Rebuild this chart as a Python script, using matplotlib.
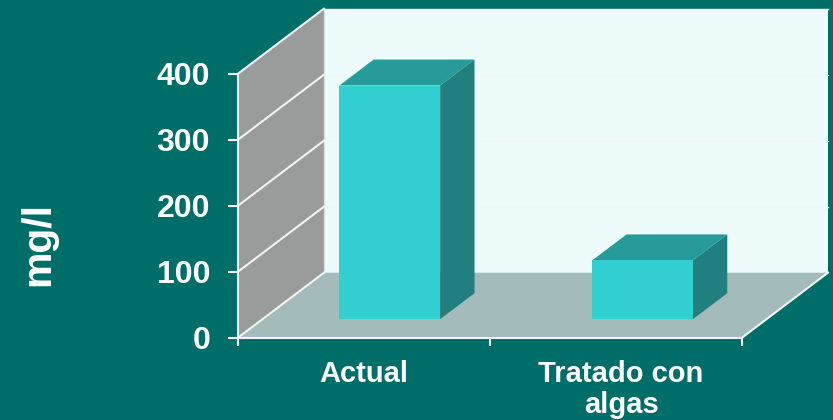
import matplotlib
matplotlib.use('Agg')
import matplotlib.pyplot as plt
from matplotlib.patches import Polygon

plt.rcParams['font.family'] = ['Liberation Sans', 'DejaVu Sans']

categories = ['Actual', 'Tratado con\nalgas']
values = [354, 89]
y_ticks = [0, 100, 200, 300, 400]
y_label = 'mg/l'

BG = '#006E68'
SIDE_WALL = '#999C9B'
BACK_WALL = '#EEFBFB'
FLOOR = '#A3BBBB'
BAR_FRONT = '#31CFCF'
BAR_TOP = '#279A9A'
BAR_SIDE = '#217F7F'

XMAX = len(categories)
YMAX = y_ticks[-1]
# oblique depth of the box, in data units
DEPTH_X = 0.341
DEPTH_Y = 98.5


def proj(x, y, d):
    return (x + d * DEPTH_X, y + d * DEPTH_Y)


def face(ax, pts, color, zorder, edge='none', lw=0):
    ax.add_patch(Polygon([proj(*p) for p in pts], closed=True, facecolor=color,
                         edgecolor=edge, linewidth=lw, clip_on=False, zorder=zorder))


def depth_line(ax, x, y, color='#F2F4F4', lw=1.5, zorder=3):
    p0 = proj(x, y, 0)
    p1 = proj(x, y, 1)
    ax.plot([p0[0], p1[0]], [p0[1], p1[1]], color=color, lw=lw, clip_on=False, zorder=zorder)


fig = plt.figure(figsize=(8.33, 4.2), dpi=100, facecolor=BG)
ax = fig.add_axes([238 / 833, 1 - 337.7 / 420, 504 / 833, 264 / 420])
ax.set_facecolor('none')
ax.set_xlim(0, XMAX)
ax.set_ylim(0, YMAX)

# back wall, side wall, floor
face(ax, [(0, 0, 1), (XMAX, 0, 1), (XMAX, YMAX, 1), (0, YMAX, 1)], BACK_WALL, 1)
face(ax, [(0, 0, 0), (0, 0, 1), (0, YMAX, 1), (0, YMAX, 0)], SIDE_WALL, 1)
face(ax, [(0, 0, 0), (XMAX, 0, 0), (XMAX, 0, 1), (0, 0, 1)], FLOOR, 1)

# grid lines
for t in y_ticks:
    depth_line(ax, 0, t)
    if t > 0:
        p = proj(0, t, 1)
        ax.plot([p[0], p[0] + XMAX], [p[1], p[1]], color='#F4F6F6', lw=1, clip_on=False, zorder=2)
depth_line(ax, XMAX, 0)
p = proj(0, 0, 1)
ax.plot([p[0], p[0]], [p[1], p[1] + YMAX], color='#D5E2E2', lw=1, clip_on=False, zorder=2)

# bars
bar_w = 0.4
d0, d1 = 0.285, 0.685
for i, v in enumerate(values):
    x0 = i + 0.505 - bar_w / 2 + 0.003 * i
    x1 = x0 + bar_w
    face(ax, [(x0, v, d0), (x1, v, d0), (x1, v, d1), (x0, v, d1)], BAR_TOP, 4)
    face(ax, [(x1, 0, d0), (x1, 0, d1), (x1, v, d1), (x1, v, d0)], BAR_SIDE, 4)
    face(ax, [(x0, 0, d0), (x1, 0, d0), (x1, v, d0), (x0, v, d0)], BAR_FRONT, 5)

for s in ['top', 'right']:
    ax.spines[s].set_visible(False)
for s in ['left', 'bottom']:
    ax.spines[s].set_color('#F2F4F4')
    ax.spines[s].set_linewidth(1.5)
    ax.spines[s].set_zorder(6)

ax.set_yticks(y_ticks)
ax.set_xticks(range(XMAX + 1))
ax.set_xticklabels([])
ax.set_xticks([0.5, 1.52], minor=True)
ax.set_xticklabels(categories, minor=True, fontsize=21, fontweight='bold',
                   color='white', linespacing=1.15)
ax.tick_params(axis='x', which='minor', length=0, pad=16)
ax.tick_params(axis='x', which='major', length=6, width=1.5, color='white', pad=3)
ax.tick_params(axis='y', length=7, width=1.5, color='white', pad=13, labelcolor='white', labelsize=23)
for lbl in ax.get_yticklabels():
    lbl.set_fontweight('bold')

fig.text(38 / 833, 1 - 244.5 / 420, y_label, rotation=90, color='white', fontsize=29.5,
         fontweight='bold', ha='center', va='center')

fig.savefig('out.png', dpi=100, facecolor=BG)
